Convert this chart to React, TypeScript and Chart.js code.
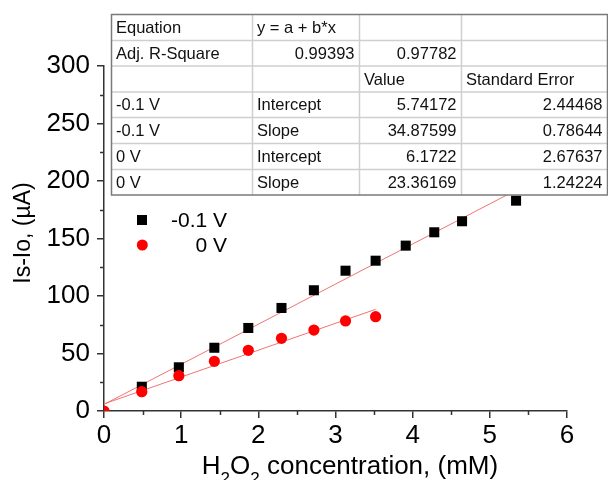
import React, { useEffect, useRef } from "react";
import { Chart, registerables } from "chart.js";
Chart.register(...registerables);

// -0.1 V series
const concNeg01 = [0.49, 0.97, 1.43, 1.87, 2.3, 2.72, 3.13, 3.52, 3.91, 4.28, 4.64, 5.34];
const currentNeg01 = [21.1, 38, 55, 72.2, 89.6, 105, 122, 130.7, 143.8, 155.4, 165, 182.9];
// 0 V series
const conc0V = [0, 0.49, 0.97, 1.43, 1.87, 2.3, 2.72, 3.13, 3.52];
const current0V = [0, 16.8, 30.7, 43.2, 52.8, 63.2, 70.4, 78.3, 82];

// linear fits (from table)
const seriesNames = ["-0.1 V", "0 V"];
const intercepts = [5.74172, 6.1722];
const slopes = [34.87599, 23.36169];
const interceptErr = [2.44468, 2.67637];
const slopeErr = [0.78644, 1.24224];
const adjR2 = [0.99393, 0.97782];
const fitRangeNeg01 = [0, 5.34];
const fitRange0V = [0, 3.52];

const xTicks = [0, 1, 2, 3, 4, 5, 6];
const yTicks = [0, 50, 100, 150, 200, 250, 300];

const FONT = '"Liberation Sans", Arial, sans-serif';

const tableRows: string[][] = [
  ["Equation", "y = a + b*x", "", ""],
  ["Adj. R-Square", adjR2[0].toFixed(5), adjR2[1].toFixed(5), ""],
  ["", "", "Value", "Standard Error"],
  [seriesNames[0], "Intercept", String(intercepts[0]), String(interceptErr[0])],
  [seriesNames[0], "Slope", String(slopes[0]), String(slopeErr[0])],
  [seriesNames[1], "Intercept", String(intercepts[1]), String(interceptErr[1])],
  [seriesNames[1], "Slope", String(slopes[1]), String(slopeErr[1])],
];

const fitLine = (i: number, range: number[]) =>
  range.map((x) => ({ x, y: intercepts[i] + slopes[i] * x }));

const overlayPlugin = {
  id: "overlay",
  afterDraw(chart: any) {
    const ctx = chart.ctx as CanvasRenderingContext2D;
    const xs = chart.scales.x;
    const ys = chart.scales.y;
    const area = chart.chartArea;
    ctx.save();
    // minor ticks
    ctx.strokeStyle = "#333";
    ctx.lineWidth = 1.5;
    ctx.beginPath();
    for (let v = 0.5; v < 6; v += 1) {
      const px = Math.round(xs.getPixelForValue(v)) + 0.5;
      ctx.moveTo(px, area.bottom);
      ctx.lineTo(px, area.bottom + 4);
    }
    for (let v = 25; v < 300; v += 50) {
      const py = Math.round(ys.getPixelForValue(v)) + 0.5;
      ctx.moveTo(area.left, py);
      ctx.lineTo(area.left - 4, py);
    }
    ctx.stroke();

    // axis titles
    ctx.fillStyle = "#000";
    ctx.font = `23px ${FONT}`;
    ctx.textBaseline = "middle";
    ctx.textAlign = "center";
    ctx.save();
    ctx.translate(24, 233);
    ctx.rotate(-Math.PI / 2);
    ctx.fillText("Is-Io, (µA)", 0, 0);
    ctx.restore();

    const parts: [string, boolean][] = [
      ["H", false], ["2", true], ["O", false], ["2", true], [" concentration, (mM)", false],
    ];
    const big = `26px ${FONT}`;
    const small = `17px ${FONT}`;
    let total = 0;
    for (const [t, sub] of parts) {
      ctx.font = sub ? small : big;
      total += ctx.measureText(t).width;
    }
    let x = 350 - total / 2;
    ctx.textAlign = "left";
    ctx.textBaseline = "alphabetic";
    for (const [t, sub] of parts) {
      ctx.font = sub ? small : big;
      ctx.fillText(t, x, sub ? 484 : 473.5);
      x += ctx.measureText(t).width;
    }

    // legend
    ctx.font = `21px ${FONT}`;
    ctx.textAlign = "right";
    ctx.textBaseline = "middle";
    ctx.fillStyle = "#000";
    ctx.fillRect(137, 215, 10, 10);
    ctx.fillText(seriesNames[0], 227, 221);
    ctx.fillStyle = "#ff0000";
    ctx.beginPath();
    ctx.arc(142.3, 245, 5.5, 0, Math.PI * 2);
    ctx.fill();
    ctx.fillStyle = "#000";
    ctx.fillText(seriesNames[1], 227, 246);

    // table
    const colX = [111.5, 252.5, 359.5, 461.5, 607.5];
    const rowY = [14.5, 40.5, 66, 92, 117.5, 143.5, 169.5, 195];
    ctx.fillStyle = "#fff";
    ctx.fillRect(colX[0], rowY[0], colX[4] - colX[0], rowY[7] - rowY[0]);
    ctx.strokeStyle = "#cfcfcf";
    ctx.lineWidth = 1.5;
    ctx.beginPath();
    for (let i = 1; i < 7; i++) {
      ctx.moveTo(colX[0], rowY[i]);
      ctx.lineTo(colX[4], rowY[i]);
    }
    for (let j = 1; j < 4; j++) {
      ctx.moveTo(colX[j], rowY[0]);
      ctx.lineTo(colX[j], rowY[7]);
    }
    ctx.stroke();
    ctx.strokeStyle = "#7a7a7a";
    ctx.lineWidth = 1.5;
    ctx.strokeRect(colX[0], rowY[0], colX[4] - colX[0], rowY[7] - rowY[0]);
    ctx.font = `16.5px ${FONT}`;
    ctx.fillStyle = "#111";
    ctx.textBaseline = "middle";
    tableRows.forEach((row, r) => {
      const cy = (rowY[r] + rowY[r + 1]) / 2 + 1;
      row.forEach((txt, c) => {
        if (!txt) return;
        const numeric = /^-?[0-9.]+$/.test(txt);
        if (numeric) {
          ctx.textAlign = "right";
          ctx.fillText(txt, colX[c + 1] - 5, cy);
        } else {
          ctx.textAlign = "left";
          ctx.fillText(txt, colX[c] + 4.5, cy);
        }
      });
    });
    ctx.restore();
  },
};

export default function App() {
  const ref = useRef<HTMLCanvasElement>(null);
  useEffect(() => {
    const canvas = ref.current!;
    const zeroPad = (scale: any) => {
      scale.paddingLeft = 0;
      scale.paddingRight = 0;
      scale.paddingTop = 0;
      scale.paddingBottom = 0;
    };
    const chart = new Chart(canvas, {
      type: "scatter",
      data: {
        datasets: [
          {
            type: "line",
            label: "fit -0.1 V",
            data: fitLine(0, fitRangeNeg01),
            borderColor: "#f27373",
            borderWidth: 1,
            pointRadius: 0,
            showLine: true,
            order: 2,
          },
          {
            type: "line",
            label: "fit 0 V",
            data: fitLine(1, fitRange0V),
            borderColor: "#f27373",
            borderWidth: 1,
            pointRadius: 0,
            showLine: true,
            order: 2,
          },
          {
            label: seriesNames[0],
            data: concNeg01.map((x, i) => ({ x, y: currentNeg01[i] })),
            pointStyle: "rect",
            pointRadius: 7.1,
            backgroundColor: "#000",
            borderColor: "#000",
            borderWidth: 0,
            order: 1,
          },
          {
            label: seriesNames[1],
            data: conc0V.map((x, i) => ({ x, y: current0V[i] })),
            pointStyle: "circle",
            pointRadius: 5.6,
            backgroundColor: "#ff0000",
            borderColor: "#ff0000",
            borderWidth: 0,
            clip: 0,
            order: 0,
          },
        ],
      },
      options: {
        animation: false,
        responsive: false,
        devicePixelRatio: 1,
        layout: { padding: { left: 0, top: 66, right: 41, bottom: 0 } },
        plugins: { legend: { display: false }, tooltip: { enabled: false } },
        scales: {
          x: {
            type: "linear",
            min: 0,
            max: 6,
            afterBuildTicks: (s: any) => {
              s.ticks = xTicks.map((value) => ({ value }));
            },
            afterFit: (s: any) => {
              s.height = 69;
              zeroPad(s);
            },
            ticks: { color: "#000", font: { family: FONT, size: 26 }, padding: 2 },
            grid: { drawOnChartArea: false, drawTicks: true, tickLength: 7, color: "#333", lineWidth: 1.5 },
            border: { display: true, color: "#333", width: 1.5 },
          },
          y: {
            type: "linear",
            min: 0,
            max: 300,
            afterBuildTicks: (s: any) => {
              s.ticks = yTicks.map((value) => ({ value }));
            },
            afterFit: (s: any) => {
              s.width = 104;
              zeroPad(s);
            },
            ticks: { color: "#000", font: { family: FONT, size: 26 }, padding: 7 },
            grid: { drawOnChartArea: false, drawTicks: true, tickLength: 7, color: "#333", lineWidth: 1.5 },
            border: { display: true, color: "#333", width: 1.5 },
          },
        },
      },
      plugins: [overlayPlugin],
    } as any);
    return () => chart.destroy();
  }, []);
  return (
    <div style={{ position: "absolute", left: 0, top: 0, width: 608, height: 480, background: "#fff" }}>
      <canvas ref={ref} width={608} height={480} style={{ width: 608, height: 480 }} />
    </div>
  );
}
